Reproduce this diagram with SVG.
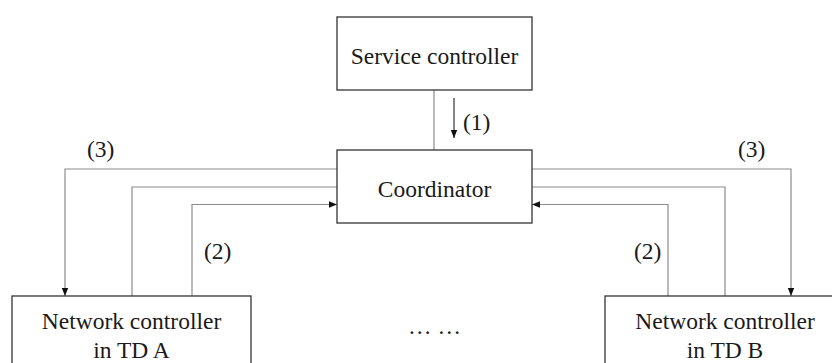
<svg xmlns="http://www.w3.org/2000/svg" width="832" height="363" viewBox="0 0 832 363">
<defs>
<style>
.box{fill:#fff;stroke:#333;stroke-width:1.3}
.t{font-family:"Liberation Serif","Times New Roman",serif;font-size:23.5px;fill:#1a1a1a}
.c{text-anchor:middle}
.ln{fill:none;stroke:#8c8c8c;stroke-width:1.2}
.ar{fill:none;stroke:#333;stroke-width:1.2}
</style>
<marker id="ah" viewBox="0 0 8 8" refX="8" refY="4" markerWidth="8" markerHeight="8" markerUnits="userSpaceOnUse" orient="auto">
<path d="M0,0.8 L8,4 L0,7.2 Z" fill="#111"/>
</marker>
</defs>
<rect width="832" height="363" fill="#fff"/>
<g id="connectors">
<line class="ln" x1="434" y1="90" x2="434" y2="150"/>
<line class="ar" x1="454" y1="98" x2="454" y2="138" marker-end="url(#ah)"/>
<polyline class="ln" points="337,169 65,169 65,296" marker-end="url(#ah)"/>
<polyline class="ln" points="337,187 132,187 132,296"/>
<polyline class="ln" points="192,296 192,204.5 337,204.5" marker-end="url(#ah)"/>
<polyline class="ln" points="532,169 791,169 791,296" marker-end="url(#ah)"/>
<polyline class="ln" points="532,187 725,187 725,296"/>
<polyline class="ln" points="668,296 668,204.5 532,204.5" marker-end="url(#ah)"/>
<text class="t" x="463" y="130">(1)</text>
<text class="t" x="87" y="157">(3)</text>
<text class="t" x="738" y="157">(3)</text>
<text class="t" x="204" y="259">(2)</text>
<text class="t" x="634" y="259">(2)</text>
</g>
<g id="service-controller">
<rect class="box" x="337" y="17" width="195" height="73"/>
<text class="t c" x="434.5" y="63.5">Service controller</text>
</g>
<g id="coordinator">
<rect class="box" x="337" y="150" width="195" height="73"/>
<text class="t c" x="434.5" y="196.5">Coordinator</text>
</g>
<g id="nc-a">
<rect class="box" x="12" y="296" width="239" height="90"/>
<text class="t c" x="131.5" y="329">Network controller</text>
<text class="t c" x="131.5" y="358">in TD A</text>
</g>
<g id="nc-b">
<rect class="box" x="605" y="296" width="240" height="90"/>
<text class="t c" x="725" y="329">Network controller</text>
<text class="t c" x="725" y="358">in TD B</text>
</g>
<g id="ellipsis">
<text class="t c" x="434.5" y="334">… …</text>
</g>
</svg>
